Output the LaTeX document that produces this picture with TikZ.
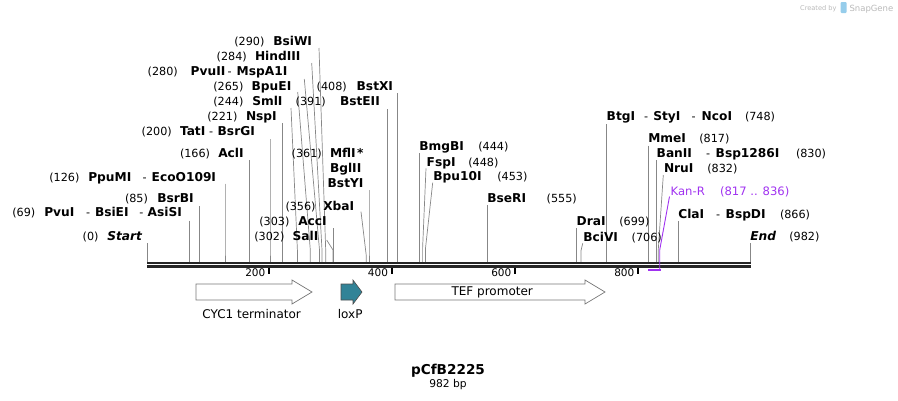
\documentclass[tikz,border=0pt]{standalone}
\usepackage{fontspec}
\setmainfont{DejaVu Sans}
\definecolor{linegray}{RGB}{135,135,135}
\definecolor{kanr}{RGB}{160,50,240}
\definecolor{loxpc}{RGB}{49,131,151}
\definecolor{featline}{RGB}{120,120,120}
\definecolor{wmgray}{RGB}{185,185,185}
\definecolor{wmblue}{RGB}{150,205,235}
\tikzset{
  num/.style={font=\fontsize{11.2}{13}\selectfont, anchor=base west, inner sep=0pt, outer sep=0pt},
  enz/.style={font=\fontsize{12.2}{13}\selectfont\bfseries, anchor=base west, inner sep=0pt, outer sep=0pt},
  enzit/.style={enz, font=\fontsize{12.2}{13}\selectfont\bfseries\itshape},
  kan/.style={num, text=kanr, font=\fontsize{11.6}{13}\selectfont},
  cut/.style={draw=linegray, line width=0.7pt},
  bb/.style={draw=black!85, line width=2.6pt},
  tick/.style={draw=black, line width=1.6pt},
  ticklab/.style={font=\fontsize{10.5}{12}\selectfont, anchor=base east, inner sep=0pt},
  feat/.style={draw=featline, line width=0.7pt, fill=white},
  featlab/.style={font=\fontsize{12}{14}\selectfont, anchor=base, inner sep=0pt}
}
\begin{document}
\begin{tikzpicture}[x=1pt,y=-1pt]
\useasboundingbox (0,0) rectangle (898,400);

% ---------- cut-site leader lines ----------
\foreach \n/\tx/\ty/\kx/\ky in {
  s0/147.7/243/147.7/250, s69/189.7/220.7/189.7/250, s85/199.3/206/199.3/250,
  s126/225/183.5/225/250, s166/249.3/160/249.3/250, s200/270/139/270/250,
  s221/282.5/123/282.5/250, s244/291/108/297.4/250, s265/297.7/92/310.3/250,
  s280/304.3/79/319.5/250, s284/311.7/63/322/250, s290/319/48/325.7/250,
  s302/326.7/240/333/250, s303/333.6/228.3/333.6/250, s356/361/211.7/366.2/255,
  s361/369/190/369/250, s391/387.5/109/387.5/250, s408/397.5/93/397.5/250,
  s444/419.5/153.3/419.5/250, s448/426/168.3/422.6/248.3, s453/432.7/182.7/425.5/248.3,
  s555/487.8/205/487.8/250, s699/576.7/228.3/576.7/250, s706/582.7/243.3/581/250.7,
  s748/606.7/124/606.7/250, s817/648.5/145.5/648.5/250, s830/656.8/160/656.8/250,
  s832/663.3/175/658.3/249.3, s866/678.7/221/678.7/250, s982/750.3/243/750.3/250}{
  \coordinate (\n t) at (\tx,\ty);
  \coordinate (\n k) at (\kx,\ky);
  \coordinate (\n b) at (\kx,262);
  \draw[cut] (\n t) -- (\n k) -- (\n b);
}

% ---------- backbone ----------
\coordinate (bbL1) at (147,263); \coordinate (bbR1) at (751,263);
\coordinate (bbL2) at (147,266.6); \coordinate (bbR2) at (751,266.6);
\draw[bb] (bbL1) -- (bbR1);
\draw[bb] (bbL2) -- (bbR2);

% ticks
\foreach \n/\x/\lab in {t200/269/200, t400/391.7/400, t600/515/600, t800/638/800}{
  \coordinate (\n a) at (\x,267.5);
  \coordinate (\n b) at (\x,273.5);
  \draw[tick] (\n a) -- (\n b);
  \node[ticklab] (\n l) at (\x-3.5,276.7) {\lab};
}

% ---------- Kan-R ----------
\coordinate (kant) at (669.5,196.5);
\coordinate (kank) at (659.7,250);
\coordinate (kanb) at (659.7,270);
\coordinate (kanl) at (648.3,270);
\draw[kanr, line width=0.9pt] (kant) -- (kank) -- (kanb);
\draw[kanr, line width=1.8pt] (kanl) -- ([xshift=0.9pt]kanb);
\node[kan] (kanrname) at (670.7,195) {Kan-R};
\node[kan] (kanrnum) at (720,195) {(817 .. 836)};

% ---------- left labels ----------
\node[num] (n290) at (234.3,45.7) {(290)}; \node[enz] (e290) at (273.3,45.7) {BsiWI};
\node[num] (n284) at (216.7,60) {(284)};   \node[enz] (e284) at (255,60) {HindIII};
\node[num] (n280) at (147.7,75) {(280)};   \node[enz] (e280a) at (190.7,75) {PvuII};
\node[num] (d280) at (227.7,75) {-};       \node[enz] (e280b) at (236.7,75) {MspA1I};
\node[num] (n265) at (213.3,90) {(265)};   \node[enz] (e265) at (251.7,90) {BpuEI};
\node[num] (n244) at (213.3,105) {(244)};  \node[enz] (e244) at (252.3,105) {SmlI};
\node[num] (n221) at (207.3,120) {(221)};  \node[enz] (e221) at (246,120) {NspI};
\node[num] (n200) at (141.7,135) {(200)};  \node[enz] (e200a) at (180,135) {TatI};
\node[num] (d200) at (209,135) {-};        \node[enz] (e200b) at (217.7,135) {BsrGI};
\node[num] (n166) at (180,157.5) {(166)};  \node[enz] (e166) at (218.3,157.5) {AclI};
\node[num] (n126) at (49.3,181) {(126)};   \node[enz] (e126a) at (88.3,181) {PpuMI};
\node[num] (d126) at (142.7,181) {-};      \node[enz] (e126b) at (151.7,181) {EcoO109I};
\node[num] (n85) at (125,202.7) {(85)};    \node[enz] (e85) at (157.3,202.7) {BsrBI};
\node[num] (n69) at (12.3,216.7) {(69)};   \node[enz] (e69a) at (44.3,216.7) {PvuI};
\node[num] (d69a) at (86,216.7) {-};       \node[enz] (e69b) at (95,216.7) {BsiEI};
\node[num] (d69b) at (139.3,216.7) {-};    \node[enz] (e69c) at (147.7,216.7) {AsiSI};
\node[num] (n0) at (82.7,240.7) {(0)};     \node[enzit] (e0) at (107.3,240.7) {Start};

% ---------- middle labels ----------
\node[num] (n408) at (316.7,90) {(408)};   \node[enz] (e408) at (356.7,90) {BstXI};
\node[num] (n391) at (295.7,105) {(391)};  \node[enz] (e391) at (340,105) {BstEII};
\node[num] (n361) at (291.7,157) {(361)};  \node[enz] (e361a) at (330,157) {MflI\hspace{1.5pt}*};
\node[enz] (e361b) at (330,172) {BglII};
\node[enz] (e361c) at (327.7,187) {BstYI};
\node[num] (n356) at (285.5,210) {(356)};  \node[enz] (e356) at (323.3,210) {XbaI};
\node[num] (n303) at (259.3,225) {(303)};  \node[enz] (e303) at (298.3,225) {AccI};
\node[num] (n302) at (254.3,240) {(302)};  \node[enz] (e302) at (292.7,240) {SalI};

% ---------- right labels ----------
\node[enz] (e444) at (419.3,150.7) {BmgBI};  \node[num] (n444) at (478.3,150.7) {(444)};
\node[enz] (e448) at (426.7,166) {FspI};     \node[num] (n448) at (468.3,166) {(448)};
\node[enz] (e453) at (433.3,180) {Bpu10I};   \node[num] (n453) at (497.3,180) {(453)};
\node[enz] (e555) at (487.3,202.7) {BseRI};  \node[num] (n555) at (546.7,202.7) {(555)};
\node[enz] (e699) at (576.7,225) {DraI};     \node[num] (n699) at (619.3,225) {(699)};
\node[enz] (e706) at (583.3,241) {BciVI};    \node[num] (n706) at (631.7,241) {(706)};
\node[enz] (e748a) at (606.7,120.7) {BtgI};  \node[num] (d748a) at (644,120.7) {-};
\node[enz] (e748b) at (653.3,120.7) {StyI};  \node[num] (d748b) at (691.7,120.7) {-};
\node[enz] (e748c) at (701.7,120.7) {NcoI};  \node[num] (n748) at (745,120.7) {(748)};
\node[enz] (e817) at (648.3,142.7) {MmeI};   \node[num] (n817) at (699.3,142.7) {(817)};
\node[enz] (e830a) at (656.7,157.3) {BanII}; \node[num] (d830) at (706,157.3) {-};
\node[enz] (e830b) at (715.7,157.3) {Bsp1286I}; \node[num] (n830) at (796,157.3) {(830)};
\node[enz] (e832) at (664,172.7) {NruI};     \node[num] (n832) at (707.3,172.7) {(832)};
\node[enz] (e866a) at (678.3,218.3) {ClaI};  \node[num] (d866) at (716,218.3) {-};
\node[enz] (e866b) at (725.7,218.3) {BspDI}; \node[num] (n866) at (780,218.3) {(866)};
\node[enzit] (e982) at (750.3,240.7) {End};  \node[num] (n982) at (789.3,240.7) {(982)};

% ---------- features ----------
\draw[feat] (196,284) -- (292,284) -- (292,280) -- (312,292) -- (292,304) -- (292,300) -- (196,300) -- cycle;
\draw[feat] (395,284) -- (585,284) -- (585,280) -- (605,292) -- (585,304) -- (585,300) -- (395,300) -- cycle;
\draw[draw=black!70, line width=0.6pt, fill=loxpc] (341,284) -- (353,284) -- (353,280) -- (362,292) -- (353,304) -- (353,300) -- (341,300) -- cycle;
\node[featlab] (cyc1) at (251.7,318.3) {CYC1 terminator};
\node[featlab] (loxp) at (350.2,318.3) {loxP};
\node[featlab] (tef) at (492.2,295.7) {TEF promoter};

% ---------- title ----------
\node[font=\fontsize{13.6}{15}\selectfont\bfseries, anchor=base, inner sep=0pt] (title) at (448,374.5) {pCfB2225};
\node[font=\fontsize{10.7}{12}\selectfont, anchor=base, inner sep=0pt] (size) at (448,387) {982 bp};

% ---------- watermark ----------
\node[font=\fontsize{6.6}{8}\selectfont, text=wmgray, anchor=base west, inner sep=0pt] (wm1) at (800,10.5) {Created by};
\fill[wmblue, rounded corners=1pt] (840.5,2) rectangle (846.5,13);
\node[font=\fontsize{8.5}{10}\selectfont, text=wmgray, anchor=base west, inner sep=0pt] (wm2) at (849.3,11) {SnapGene};
\end{tikzpicture}
\end{document}
